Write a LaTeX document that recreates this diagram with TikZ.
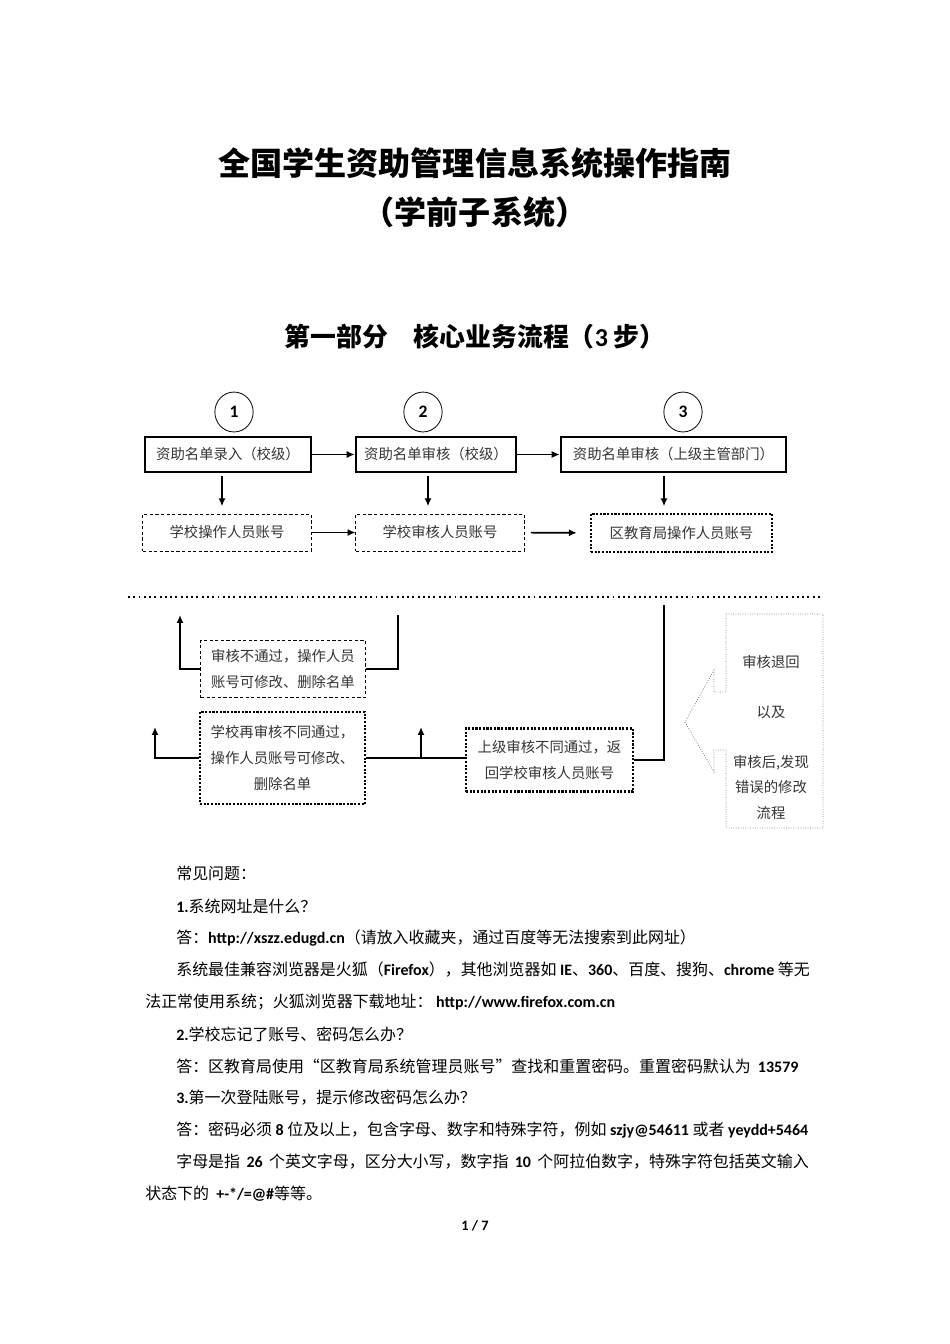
\documentclass[tikz,border=0pt]{standalone}
\usepackage{fontspec}
\setmainfont{Noto Sans CJK SC}
\newfontfamily\latfont{Carlito}
\usetikzlibrary{positioning,arrows.meta,calc,shapes.geometric}
\newcommand{\en}[1]{{\latfont\bfseries #1}}
\tikzset{
  flowtext/.style={font=\fontsize{9pt}{16pt}\selectfont, text=black!80, align=center},
  stepbox/.style={draw, line width=1.6pt, inner sep=0pt, minimum height=21.9pt, flowtext},
  accbox/.style={draw, line width=0.6pt, dash pattern=on 2pt off 1.5pt, inner sep=0pt, minimum height=23.2pt, flowtext},
  backbox/.style={draw, line width=1.3pt, densely dotted, inner sep=0pt, flowtext},
  numcirc/.style={draw, ellipse, line width=0.5pt, minimum width=24pt, minimum height=25pt, inner sep=0pt,
    font=\latfont\bfseries\fontsize{11pt}{11pt}\selectfont},
  para/.style={anchor=west, inner sep=0pt, font=\fontsize{10pt}{12pt}\selectfont},
  link/.style={line width=1pt},
}
\begin{document}
\begin{tikzpicture}[x=0.6266pt,y=-0.6266pt,>={Latex[length=5pt,width=4.5pt]}]
  \useasboundingbox (0,0) rectangle (950,1344);
  \node[font=\fontsize{20.1pt}{24pt}\selectfont\bfseries] (title) at (475,163) {全国学生资助管理信息系统操作指南};
  \node[font=\fontsize{20.1pt}{24pt}\selectfont\bfseries] (subtitle) at (475,212) {（学前子系统）};
  \node[font=\fontsize{16.2pt}{19pt}\selectfont\bfseries] (part) at (475,337) {第一部分　核心业务流程（\en{3} 步）};

  \node[numcirc] (n1) at (234,412) {1};
  \node[numcirc] (n2) at (423,412) {2};
  \node[numcirc] (n3) at (683,412) {3};

  \node[stepbox, minimum width=104pt] (s1) at (228,454.5) {资助名单录入（校级）};
  \node[stepbox, minimum width=100.3pt] (s2) at (436,454.5) {资助名单审核（校级）};
  \node[stepbox, minimum width=141pt] (s3) at (673.5,454.5) {资助名单审核（上级主管部门）};
  \draw[link,->] (s1) -- (s2);
  \draw[link,->] (s2) -- (s3);

  \node[accbox, minimum width=105.3pt] (a1) at (227,532.5) {学校操作人员账号};
  \node[accbox, minimum width=105.3pt] (a2) at (440,532.5) {学校审核人员账号};
  \node[backbox, line width=1.8pt, minimum width=113.4pt, minimum height=23.8pt] (a3) at (681.5,533) {区教育局操作人员账号};
  \draw[link,->] ($(s1.south)+(-6,3)$) -- ++(0,30);
  \draw[link,->] ($(s2.south)+(-8,3)$) -- ++(0,30);
  \draw[link,->] ($(s3.south)+(-9.5,3)$) -- ++(0,30);
  \draw[link,->] (a1) -- (a2);
  \draw[link,->,shorten <=4pt,shorten >=8pt] (a2) -- (a3);

  \draw[line width=1.2pt, dash pattern=on 1.2pt off 2.1pt] (128,597) -- (822,597);

  \node[accbox, minimum width=102.8pt, minimum height=36.3pt] (rejA) at (283,669) {审核不通过，操作人员\\账号可修改、删除名单};
  \node[backbox, minimum width=103.4pt, minimum height=57.6pt] (rejB) at (282.5,758) {学校再审核不同通过，\\操作人员账号可修改、\\删除名单};
  \node[backbox, minimum width=104.6pt, minimum height=39.5pt] (rejC) at (549.5,760) {上级审核不同通过，返\\回学校审核人员账号};
  \coordinate (upA) at (180,615);
  \coordinate (topA) at (398,615);
  \coordinate (upB) at (155,727);
  \coordinate (upC) at (421,727);
  \coordinate (topC) at (664,605);
  \draw[link,->] (rejA.west) -| (upA);
  \draw[link] (rejA.east) -| (topA);
  \draw[link,->] (rejB.west) -| (upB);
  \draw[link] (rejB.east) -- (rejB.east -| rejC.west);
  \draw[link,->] (upC |- rejB.east) -- (upC);
  \draw[link] (rejC.east) -| (topC);

  \draw[gray, line width=0.5pt, densely dotted] (726,614) -- (823,614) -- (823,828) -- (726,828) -- (726,750)
    -- (714,750) -- (714,772) -- (685,722) -- (714,670) -- (714,692) -- (726,692) -- cycle;
  \node[flowtext] (note1) at (771,662) {审核退回};
  \node[flowtext] (note2) at (771,712) {以及};
  \node[flowtext] (note3) at (771,787) {审核后,发现\\错误的修改\\流程};

  \node[para] (faq0) at (176,873) {常见问题：};
  \node[para] (faq1) at (176,906) {\en{1.}系统网址是什么？};
  \node[para] (faq2) at (176,938) {答：\en{http://xszz.edugd.cn}（请放入收藏夹，通过百度等无法搜索到此网址）};
  \node[para] (faq3) at (176,970) {系统最佳兼容浏览器是火狐（\en{Firefox}），其他浏览器如 \en{IE}、\en{360}、百度、搜狗、\en{chrome} 等无};
  \node[para] (faq4) at (145,1002) {法正常使用系统；火狐浏览器下载地址： \en{http://www.firefox.com.cn}};
  \node[para] (faq5) at (176,1034) {\en{2.}学校忘记了账号、密码怎么办？};
  \node[para] (faq6) at (176,1066) {答：区教育局使用“区教育局系统管理员账号”查找和重置密码。重置密码默认为 \ \en{13579}};
  \node[para] (faq7) at (176,1098) {\en{3.}第一次登陆账号，提示修改密码怎么办？};
  \node[para] (faq8) at (176,1130) {答：密码必须 \en{8} 位及以上，包含字母、数字和特殊字符，例如 \en{szjy@54611} 或者 \en{yeydd+5464}};
  \node[para] (faq9) at (176,1162) {字母是指\hspace{4pt}\en{26}\hspace{4pt}个英文字母，区分大小写，数字指\hspace{4pt}\en{10}\hspace{4pt}个阿拉伯数字，特殊字符包括英文输入};
  \node[para] (faq10) at (145,1194) {状态下的 \ \en{+-*/=@\#}等等。};
  \node[font=\fontsize{9pt}{10pt}\selectfont] (pgno) at (475,1226) {\en{1 / 7}};
\end{tikzpicture}
\end{document}
